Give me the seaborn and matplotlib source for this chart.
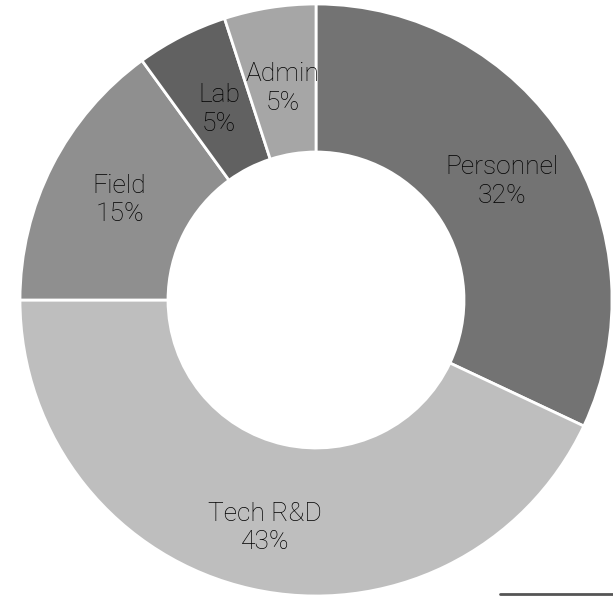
import numpy as np
import matplotlib
matplotlib.use("Agg")
from matplotlib import pyplot as plt
from matplotlib.lines import Line2D
import seaborn as sns

# budget split, clockwise from 12 o'clock
categories = ["Personnel", "Tech R&D", "Field", "Lab", "Admin"]
shares = [32, 43, 15, 5, 5]
greys = ["#737373", "#bebebe", "#8f8f8f", "#616161", "#a6a6a6"]

sns.set_theme(style="white")
plt.rcParams['font.family'] = ['Roboto', 'DejaVu Sans']

fig = plt.figure(figsize=(6.13, 5.97), dpi=100)
ax = fig.add_axes([20/613, 1/597, 592/613, 592/597])

wedges, texts = ax.pie(
    shares,
    labels=[f"{c}\n{s}%" for c, s in zip(categories, shares)],
    colors=greys,
    startangle=90,
    counterclock=False,
    radius=1.0,
    labeldistance=0.745,
    wedgeprops=dict(width=0.5, edgecolor="white", linewidth=2),
    textprops=dict(fontsize=19, color="black", fontweight="light",
                   ha="center", va="center", linespacing=1.25),
)
for t in texts:
    t.set_horizontalalignment("center")
# nudge a few labels along their radius
for i, k in [(1, 1.06), (3, 0.97), (4, 0.97)]:
    x, y = texts[i].get_position()
    texts[i].set_position((x * k, y * k))

ax.set_xlim(-1, 1)
ax.set_ylim(-1, 1)
ax.set_aspect("equal")
ax.axis("off")

# rule at the bottom right
fig.add_artist(Line2D([500/613, 1.0], [3/597, 3/597], color="#555555",
                      linewidth=2, transform=fig.transFigure))

fig.savefig("out.png", dpi=100)
